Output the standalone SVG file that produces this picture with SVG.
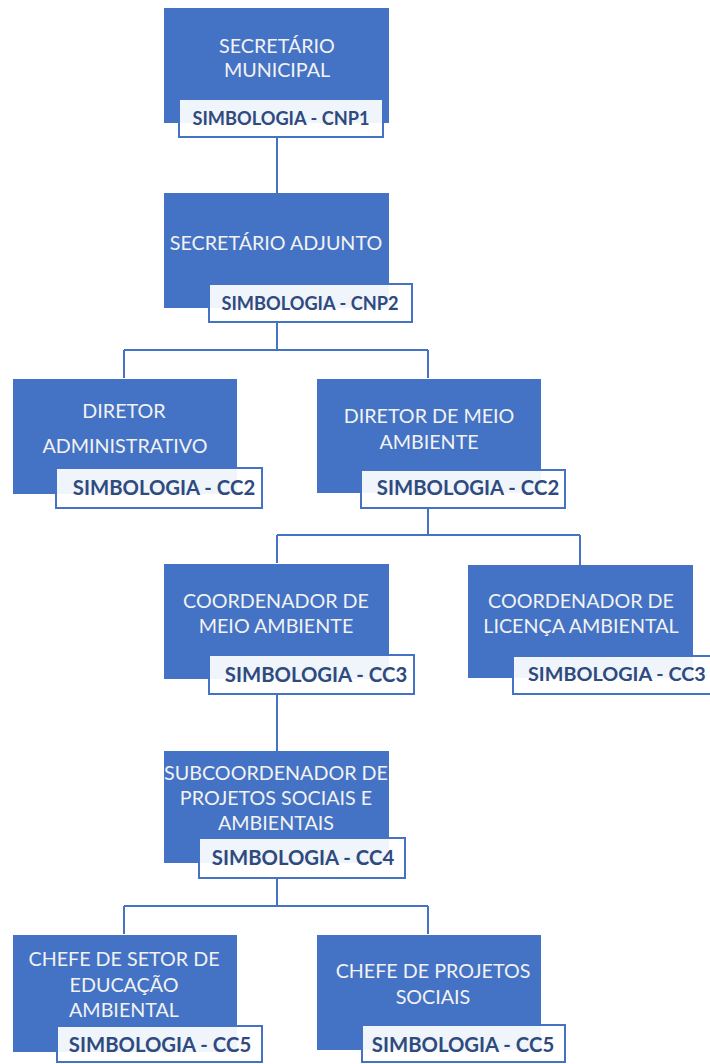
<svg xmlns="http://www.w3.org/2000/svg" width="710" height="1064" viewBox="0 0 710 1064">
<style>
.box{fill:#4472C4;}
.lab{fill:#FFFFFF;fill-opacity:0.92;stroke:#4472C4;stroke-width:2;}
.t{font-family:Lato,"Open Sans","Liberation Sans",sans-serif;font-size:19.7px;fill:#F2F2F2;text-anchor:middle;}
.s{font-family:Lato,"Open Sans","Liberation Sans",sans-serif;font-size:20.3px;font-weight:bold;fill:#2E4A7E;text-anchor:middle;}
.s2{font-size:18.2px;}
.c{fill:none;stroke:#4472C4;stroke-width:2;}
</style>
<rect width="710" height="1064" fill="#FFFFFF"/>
<g id="connectors">
<path class="c" d="M277 137V193"/>
<path class="c" d="M277 322V350M124 350H428M124 350V378M428 350V378"/>
<path class="c" d="M428 508V535M277 535H580M277 535V563M580 535V565"/>
<path class="c" d="M277 694V751"/>
<path class="c" d="M277 878V906M124 906H428M124 906V934M428 906V934"/>
</g>
<g id="n1">
<rect class="box" x="164" y="8" width="225" height="115"/>
<text class="t" x="277" y="53">SECRETÁRIO</text>
<text class="t" x="277" y="77">MUNICIPAL</text>
<rect class="lab" x="179" y="99" width="204" height="38"/>
<text class="s s2" x="281" y="125">SIMBOLOGIA - CNP1</text>
</g>
<g id="n2">
<rect class="box" x="164" y="193" width="225" height="115"/>
<text class="t" x="276" y="250">SECRETÁRIO ADJUNTO</text>
<rect class="lab" x="209" y="284" width="203" height="38"/>
<text class="s s2" x="310" y="310">SIMBOLOGIA - CNP2</text>
</g>
<g id="n3">
<rect class="box" x="13" y="379" width="224" height="115"/>
<text class="t" x="124" y="418">DIRETOR</text>
<text class="t" x="125" y="453">ADMINISTRATIVO</text>
<rect class="lab" x="56" y="468" width="206" height="40"/>
<text class="s" x="164" y="495">SIMBOLOGIA - CC2</text>
</g>
<g id="n4">
<rect class="box" x="317" y="379" width="224" height="114"/>
<text class="t" x="429" y="423">DIRETOR DE MEIO</text>
<text class="t" x="429" y="449">AMBIENTE</text>
<rect class="lab" x="361" y="470" width="204" height="38"/>
<text class="s" x="468" y="495">SIMBOLOGIA - CC2</text>
</g>
<g id="n5">
<rect class="box" x="164" y="564" width="225" height="115"/>
<text class="t" x="276" y="608">COORDENADOR DE</text>
<text class="t" x="276" y="633">MEIO AMBIENTE</text>
<rect class="lab" x="209" y="655" width="205" height="39"/>
<text class="s" x="316" y="682">SIMBOLOGIA - CC3</text>
</g>
<g id="n6">
<rect class="box" x="468" y="565" width="225" height="113"/>
<text class="t" x="581" y="608">COORDENADOR DE</text>
<text class="t" x="581" y="633">LICENÇA AMBIENTAL</text>
<rect class="lab" x="513" y="656" width="210" height="38"/>
<text class="s" x="528" y="681" style="text-anchor:start;font-size:19.8px">SIMBOLOGIA - CC3</text>
</g>
<g id="n7">
<rect class="box" x="164" y="751" width="225" height="112"/>
<text class="t" x="276" y="780">SUBCOORDENADOR DE</text>
<text class="t" x="276" y="805">PROJETOS SOCIAIS E</text>
<text class="t" x="276" y="830">AMBIENTAIS</text>
<rect class="lab" x="199" y="838" width="206" height="40"/>
<text class="s" x="303" y="865">SIMBOLOGIA - CC4</text>
</g>
<g id="n8">
<rect class="box" x="13" y="935" width="224" height="117"/>
<text class="t" x="124" y="966">CHEFE DE SETOR DE</text>
<text class="t" x="124" y="992">EDUCAÇÃO</text>
<text class="t" x="124" y="1017">AMBIENTAL</text>
<rect class="lab" x="57" y="1026" width="205" height="36"/>
<text class="s" x="160" y="1052">SIMBOLOGIA - CC5</text>
</g>
<g id="n9">
<rect class="box" x="317" y="935" width="224" height="115"/>
<text class="t" x="433" y="978">CHEFE DE PROJETOS</text>
<text class="t" x="433" y="1004">SOCIAIS</text>
<rect class="lab" x="362" y="1025" width="203" height="37"/>
<text class="s" x="463" y="1052">SIMBOLOGIA - CC5</text>
</g>
</svg>
